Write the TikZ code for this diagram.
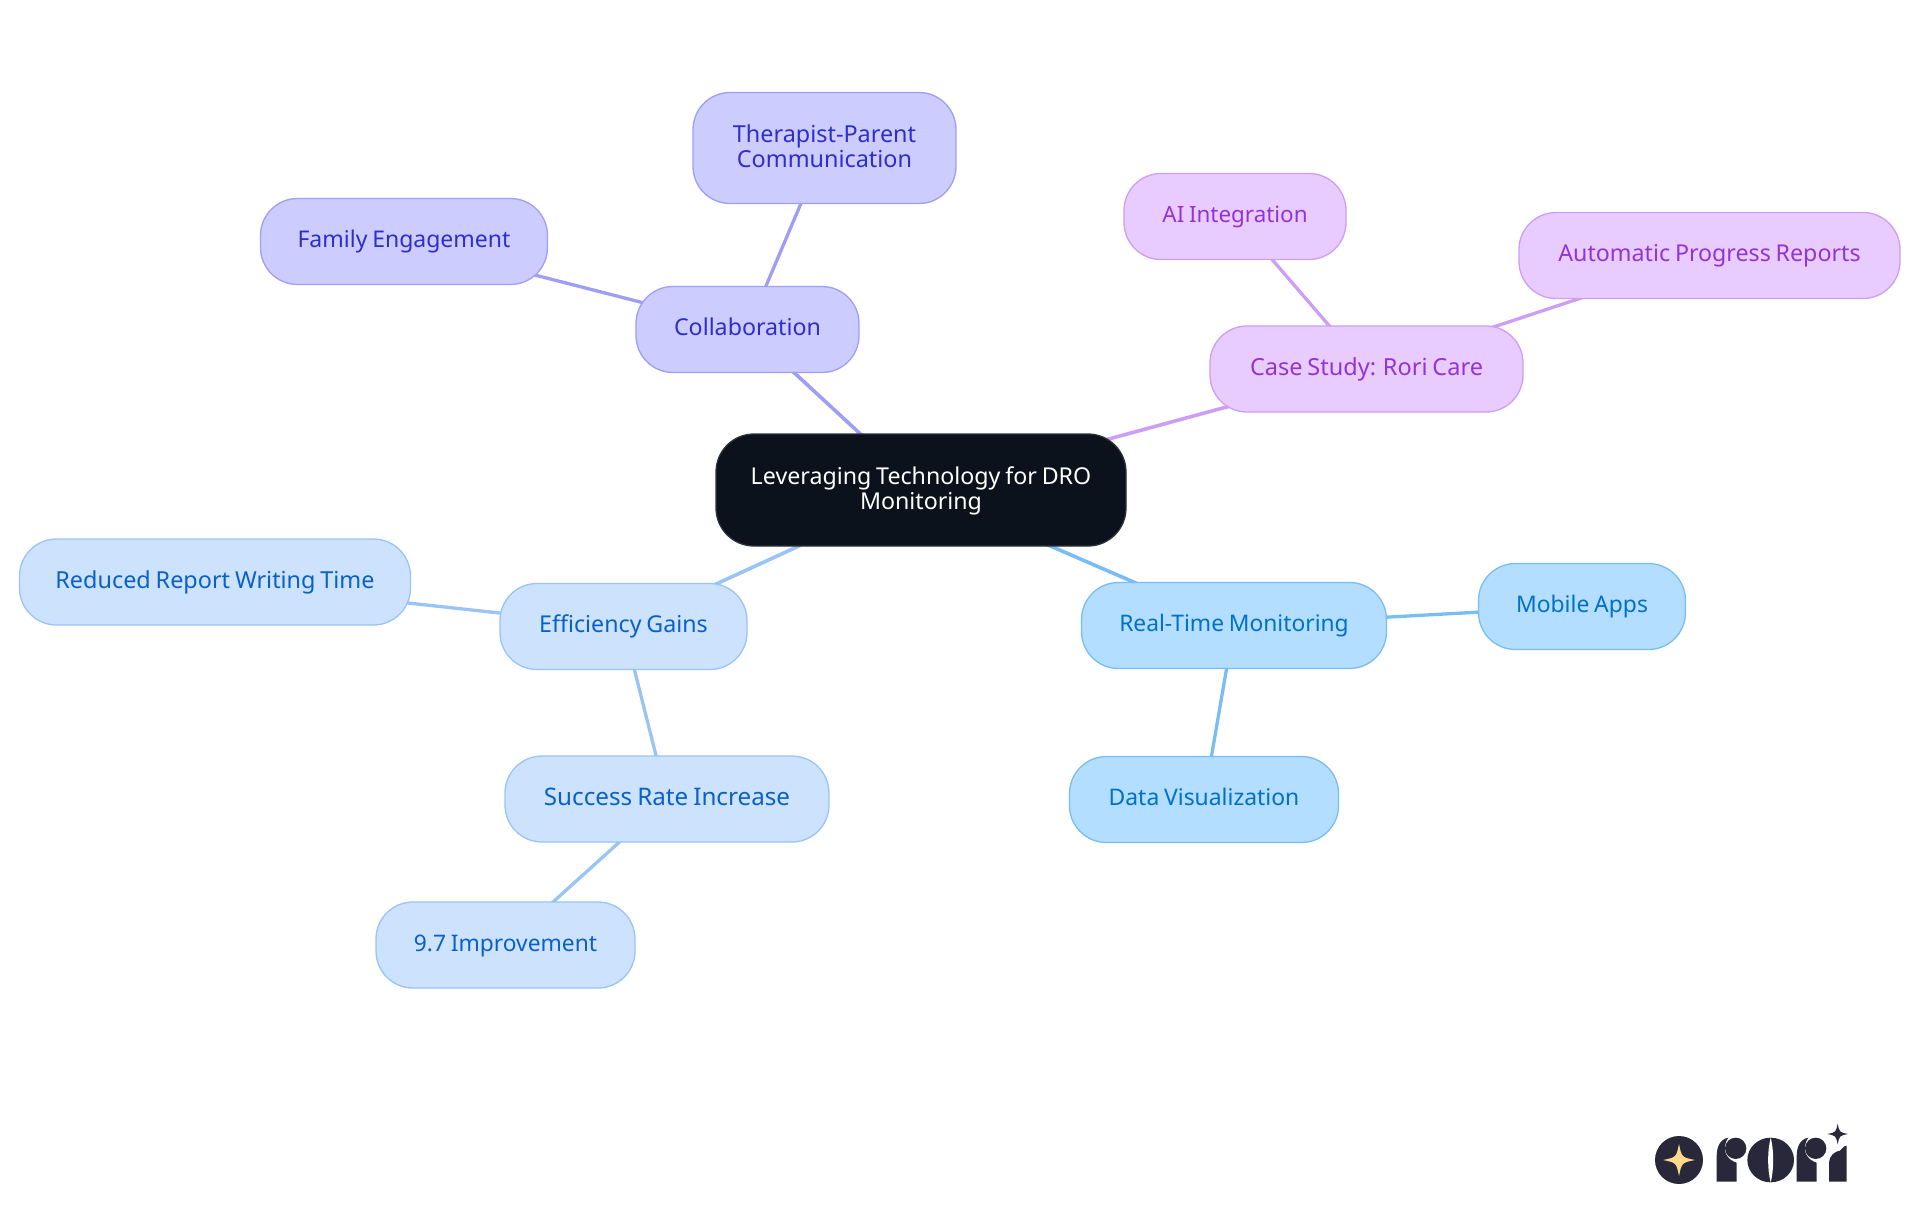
\documentclass[tikz,border=0pt]{standalone}
\usepackage{fontspec}
\setmainfont{Noto Sans}[WordSpace=0.8]
\usetikzlibrary{backgrounds}
\definecolor{rootfill}{HTML}{0B121B}
\definecolor{rootedge}{HTML}{2C3138}
\definecolor{vfill}{HTML}{CCCCFF}\definecolor{vline}{HTML}{9E9EF5}\definecolor{vtext}{HTML}{2E2ECC}
\definecolor{pfill}{HTML}{E8CCFF}\definecolor{pline}{HTML}{CC9EF5}\definecolor{ptext}{HTML}{9333D6}
\definecolor{bfill}{HTML}{CCE2FD}\definecolor{bline}{HTML}{99C4F5}\definecolor{btext}{HTML}{0A60C9}
\definecolor{sfill}{HTML}{B3DEFF}\definecolor{sline}{HTML}{7ABDF5}\definecolor{stext}{HTML}{0070C9}
\definecolor{logodark}{HTML}{28283A}
\definecolor{logostar}{HTML}{FDD98A}
\newcommand{\lstrut}{\rule[-5.5pt]{0pt}{23.5pt}}
\tikzset{
  fs/.style={font=\fontsize{#1}{25.5}\selectfont},
  mm/.style={rectangle,rounded corners=37pt,inner sep=0pt,line width=1.3pt,align=center,fs=23.2},
  size/.style 2 args={minimum width=#1pt,minimum height=#2pt},
  root/.style={mm,fill=rootfill,draw=rootedge,text=white,rounded corners=38pt},
  vio/.style={mm,fill=vfill,draw=vline,text=vtext},
  pur/.style={mm,fill=pfill,draw=pline,text=ptext},
  blu/.style={mm,fill=bfill,draw=bline,text=btext},
  sky/.style={mm,fill=sfill,draw=sline,text=stext},
  link/.style={line width=#1pt},
  link/.default=3.3
}
\newcommand{\fourstar}[3]{(#1,#2-#3) .. controls (#1+.17*#3,#2-.17*#3) .. (#1+#3,#2) .. controls (#1+.17*#3,#2+.17*#3) .. (#1,#2+#3) .. controls (#1-.17*#3,#2+.17*#3) .. (#1-#3,#2) .. controls (#1-.17*#3,#2-.17*#3) .. cycle}
\newcommand{\roristem}[1]{
  \fill[logodark] (#1,245) -- (#1+60,245) -- (#1+60,188) .. controls (#1+32,180) and (#1+10,150) .. (#1+35,113) .. controls (#1+10,118) and (#1,140) .. (#1,170) -- cycle;
  \fill[logodark] (#1+57,145) circle[radius=32];
}
\begin{document}
\begin{tikzpicture}[x=1pt,y=-1pt]
\useasboundingbox (0,0) rectangle (1920,1215);
\node[root,size={410}{112}] (center) at (921,490) {\rule{0pt}{20pt}Leveraging Technology for DRO\\Monitoring};
\node[vio,size={223}{86}] (collab) at (747.5,329.5) {\lstrut Collaboration};
\node[vio,size={263}{111},fs=23.4] (therapist) at (824.5,148) {Therapist-Parent\\Communication\rule[-4pt]{0pt}{0pt}};
\node[vio,size={287}{86},fs=23] (family) at (404,241.5) {\lstrut Family Engagement};
\node[pur,size={313}{86},fs=23.5] (case) at (1366.5,369) {\lstrut Case Study: Rori Care};
\node[pur,size={222}{86},fs=22.4] (ai) at (1235,216.5) {\lstrut AI Integration};
\node[pur,size={381}{86}] (auto) at (1709.5,255.5) {\lstrut Automatic Progress Reports};
\node[blu,size={247}{86}] (eff) at (623.5,626.5) {\lstrut Efficiency Gains};
\node[blu,size={391}{86},fs=23.4] (reduced) at (215,582) {\lstrut Reduced Report Writing Time};
\node[blu,size={324}{86},fs=24.2] (success) at (667,799) {\lstrut Success Rate Increase};
\node[blu,size={259}{86},fs=22.8] (improve) at (505.5,945) {\lstrut 9.7 Improvement};
\node[sky,size={305}{86},fs=22.8] (real) at (1234,625.5) {\lstrut Real-Time Monitoring};
\node[sky,size={207}{86},fs=22.9] (mobile) at (1582,606.5) {\lstrut Mobile Apps};
\node[sky,size={269}{86},fs=22.9] (data) at (1204,799.5) {\lstrut Data Visualization};
\begin{pgfonlayer}{background}
\draw[link=3.6,vline] (center.center) -- (collab.center);
\draw[link,vline] (collab.center) -- (therapist.center);
\draw[link,vline] (collab.center) -- (family.center);
\draw[link=3.6,pline] (center.center) -- (case.center);
\draw[link,pline] (case.center) -- (ai.center);
\draw[link,pline] (case.center) -- (auto.center);
\draw[link=3.6,bline] (center.center) -- (eff.center);
\draw[link,bline] (eff.center) -- (reduced.center);
\draw[link,bline] (eff.center) -- (success.center);
\draw[link,bline] (success.center) -- (improve.center);
\draw[link=3.6,sline] (center.center) -- (real.center);
\draw[link,sline] (real.center) -- (mobile.center);
\draw[link,sline] (real.center) -- (data.center);
\end{pgfonlayer}
\begin{scope}[shift={(1620,1100)},x=0.33333pt,y=-0.33333pt]
\fill[logodark] (177,180) circle[radius=72];
\fill[logostar] \fourstar{177}{180}{48};
\roristem{290}
\fill[logodark] (452,180) ellipse[x radius=70,y radius=67];
\fill[white] (452,113) .. controls (442,150) and (442,210) .. (452,247) .. controls (462,210) and (462,150) .. (452,113) -- cycle;
\roristem{530}
\fill[logodark] (627,245) -- (627,188) .. controls (627,168) and (645,153) .. (660,152) .. controls (667,148) and (668,138) .. (680,137) -- (680,245) -- cycle;
\fill[logodark] \fourstar{653}{102}{31};
\end{scope}
\end{tikzpicture}
\end{document}
